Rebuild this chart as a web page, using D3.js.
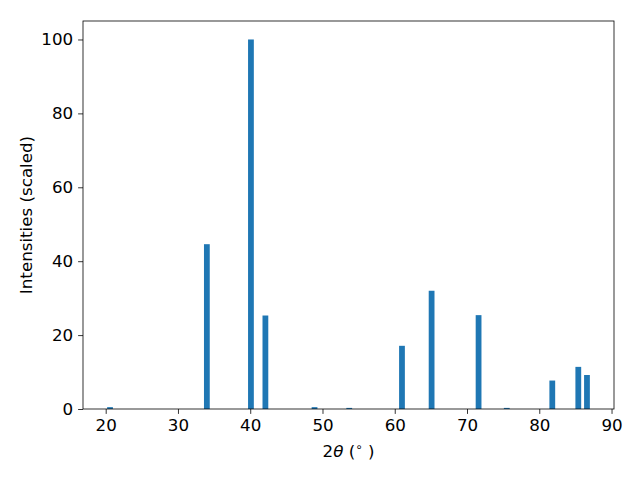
<!DOCTYPE html>
<html>
<head>
<meta charset="utf-8">
<script src="https://cdn.jsdelivr.net/npm/d3@7"></script>
<style>
body { margin: 0; background: #fff; }
svg { font-family: "DejaVu Sans", sans-serif; }
.tick text { font-size: 16.7px; fill: #000; font-family: "DejaVu Sans", sans-serif; }
.tick line { stroke: #000; stroke-width: 0.8; }
</style>
</head>
<body>
<svg id="chart" width="640" height="480"></svg>
<script>
// peak positions (2theta, degrees) and scaled intensities
var twoTheta = [20.6, 34.0, 40.1, 42.1, 48.9, 53.7, 61.0, 65.1, 71.6, 75.5, 81.8, 85.4, 86.6];
var intensity = [0.5, 44.6, 100, 25.3, 0.5, 0.3, 17.1, 32.0, 25.4, 0.3, 7.7, 11.4, 9.2];
var xTicks = [20, 30, 40, 50, 60, 70, 80, 90];
var yTicks = [0, 20, 40, 60, 80, 100];

var barWidth = 0.8;

var svg = d3.select("#chart");
var plotLeft = 83, plotRight = 614, plotTop = 21, plotBottom = 409;

// matplotlib style 5% margins around the bar extents
var xmin = d3.min(twoTheta) - barWidth / 2;
var xmax = d3.max(twoTheta) + barWidth / 2;
var pad = (xmax - xmin) * 0.05;

var x = d3.scaleLinear()
	.domain([xmin - pad, xmax + pad])
	.range([plotLeft, plotRight]);

var y = d3.scaleLinear()
	.domain([0, 105])
	.range([plotBottom, plotTop]);

var data = twoTheta.map((t, i) => ({t: t, v: intensity[i]}));

svg.append("g")
	.selectAll("rect")
	.data(data)
	.enter()
	.append("rect")
		.attr("x", d => x(d.t - barWidth / 2))
		.attr("width", d => x(d.t + barWidth / 2) - x(d.t - barWidth / 2))
		.attr("y", d => y(d.v))
		.attr("height", d => y(0) - y(d.v))
		.attr("fill", "#1f77b4");

// axes
var xAxis = d3.axisBottom(x).tickValues(xTicks).tickSize(4.9).tickPadding(4.9);
var yAxis = d3.axisLeft(y).tickValues(yTicks).tickSize(4.9).tickPadding(4.9);

svg.append("g")
	.attr("transform", "translate(0," + plotBottom + ")")
	.call(xAxis)
	.call(g => g.select(".domain").remove());

svg.append("g")
	.attr("transform", "translate(" + plotLeft + ",0)")
	.call(yAxis)
	.call(g => g.select(".domain").remove());

// frame
svg.append("rect")
	.attr("x", plotLeft)
	.attr("y", plotTop)
	.attr("width", plotRight - plotLeft)
	.attr("height", plotBottom - plotTop)
	.attr("fill", "none")
	.attr("stroke", "#000")
	.attr("stroke-width", 0.8);

// labels
var xl = svg.append("text")
	.attr("x", (plotLeft + plotRight) / 2)
	.attr("y", 457)
	.attr("text-anchor", "middle")
	.attr("font-size", "16.7px");
xl.append("tspan").text("2");
xl.append("tspan").attr("font-style", "italic").text("θ");
xl.append("tspan").text(" (");
xl.append("tspan").attr("font-size", "11.7px").attr("dy", -6).text("∘");
xl.append("tspan").attr("dy", 6).text(" )");

svg.append("text")
	.attr("transform", "translate(32," + ((plotTop + plotBottom) / 2) + ") rotate(-90)")
	.attr("text-anchor", "middle")
	.attr("font-size", "16.7px")
	.text("Intensities (scaled)");
</script>
</body>
</html>
